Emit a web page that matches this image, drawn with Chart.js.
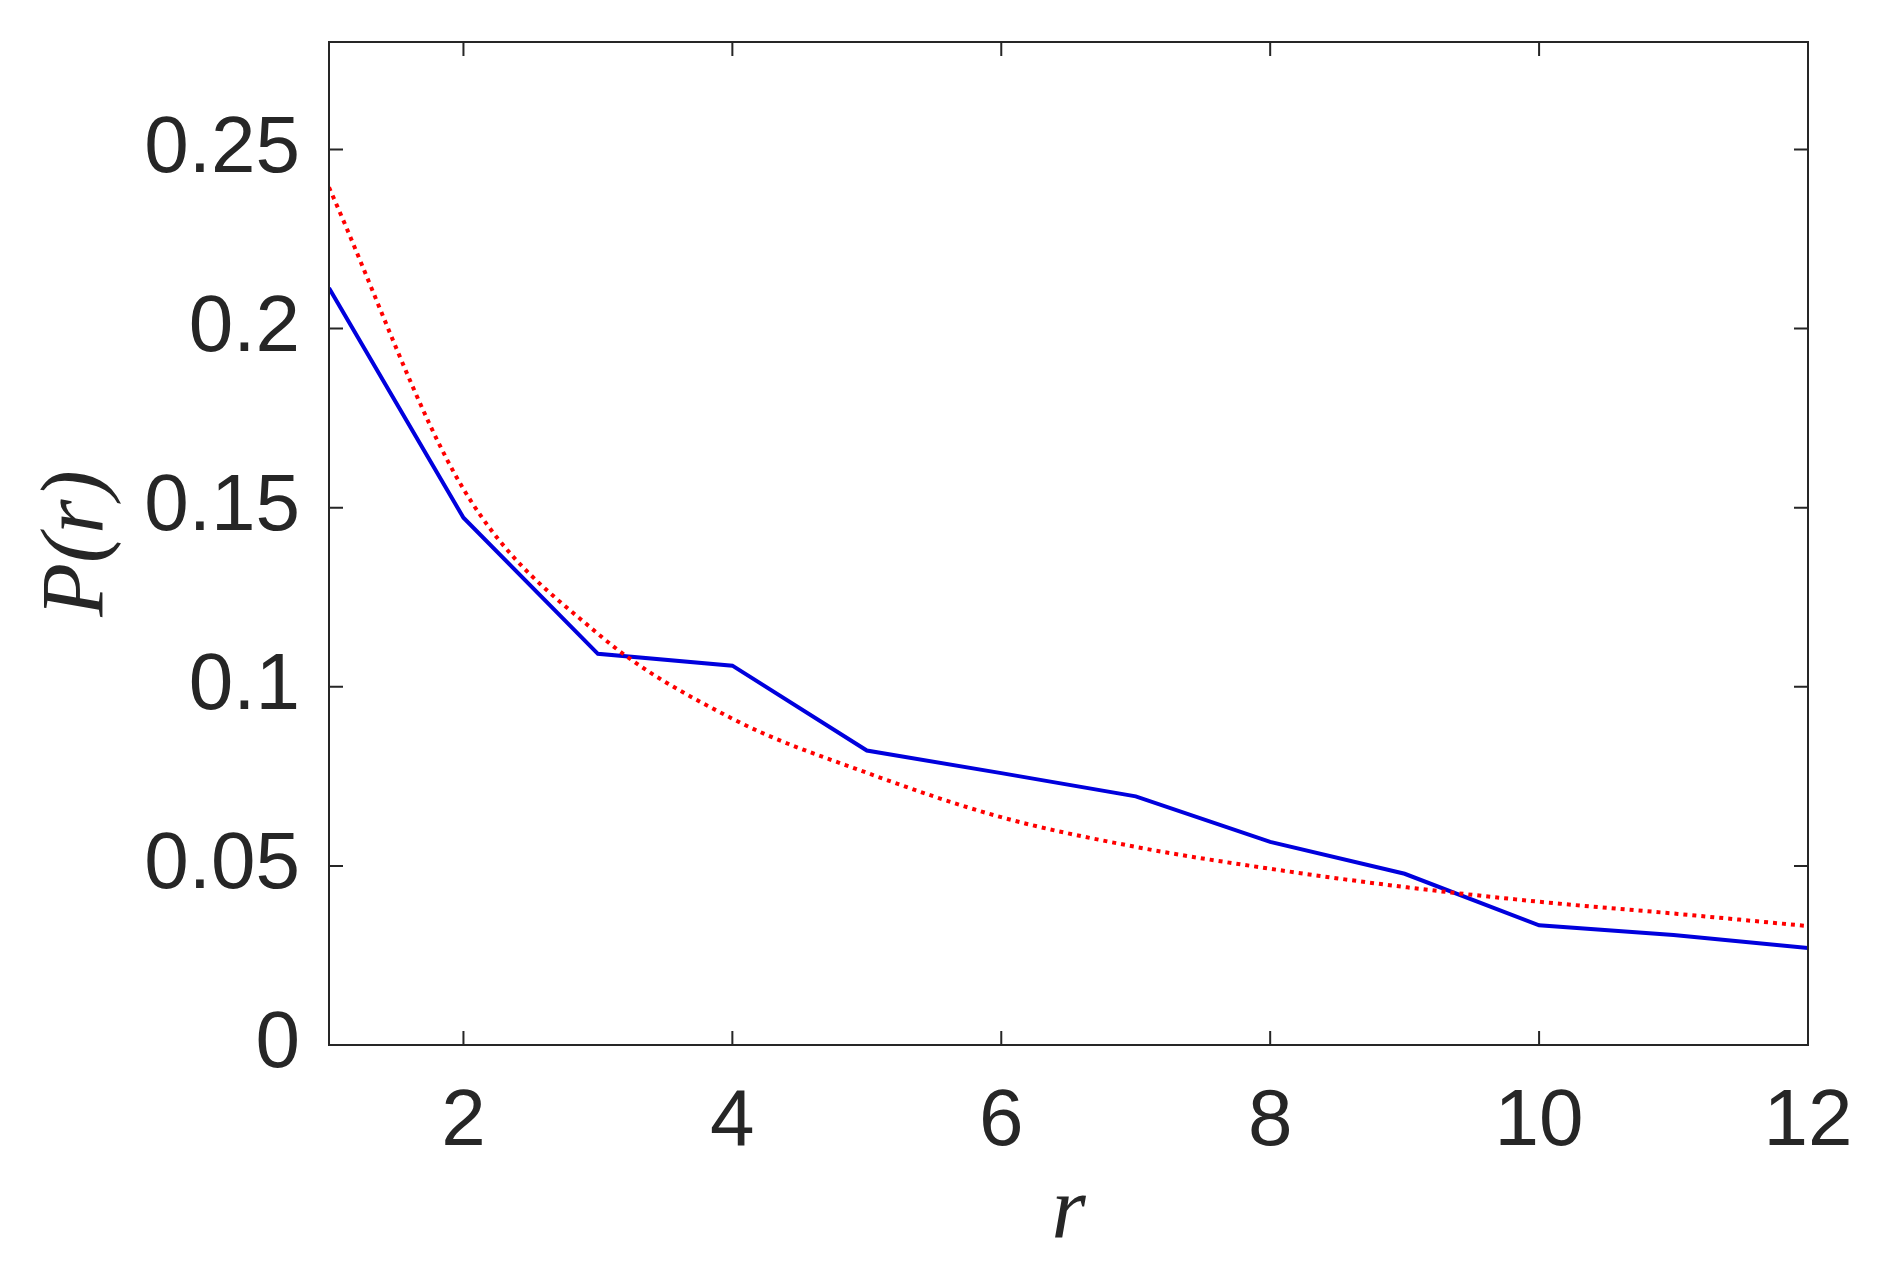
<!DOCTYPE html>
<html>
<head>
<meta charset="utf-8">
<script src="https://cdn.jsdelivr.net/npm/chart.js@4"></script>
<style>
  html, body { margin: 0; padding: 0; background: #fff; }
  #wrap { width: 1878px; height: 1281px; }
</style>
</head>
<body>
<div id="wrap"><canvas id="chart"></canvas></div>
<script>
const rValues = [1, 2, 3, 4, 5, 6, 7, 8, 9, 10, 11, 12];
const observed = [0.2113, 0.1472, 0.1092, 0.1059, 0.0822, 0.0759, 0.0694, 0.0567, 0.0478, 0.0334, 0.0307, 0.0271];
const fitted = [0.2394, 0.1552, 0.1148, 0.0911, 0.0760, 0.0636, 0.0553, 0.0492, 0.0441, 0.0400, 0.0367, 0.0332];
const xTickValues = [2, 4, 6, 8, 10, 12];
const yTickValues = [0, 0.05, 0.1, 0.15, 0.2, 0.25];
const yTickLabels = ['0', '0.05', '0.1', '0.15', '0.2', '0.25'];

const axisColor = '#262626';
const tickFont = { family: '"Liberation Sans", Arial, Helvetica, sans-serif', size: 80 };
const titleFont = { family: '"Liberation Serif", "DejaVu Serif", serif', size: 88, style: 'italic' };

// MATLAB-style box with inward ticks on every side
const frame = {
  id: 'frame',
  afterDatasetsDraw(chart) {
    const { ctx, chartArea: { left, right, top, bottom }, scales: { x, y } } = chart;
    const len = 14;
    ctx.save();
    ctx.strokeStyle = axisColor;
    ctx.lineWidth = 2;
    ctx.strokeRect(left, top, right - left, bottom - top);
    ctx.beginPath();
    xTickValues.forEach(v => {
      const px = x.getPixelForValue(v);
      ctx.moveTo(px, bottom); ctx.lineTo(px, bottom - len);
      ctx.moveTo(px, top); ctx.lineTo(px, top + len);
    });
    yTickValues.forEach(v => {
      const py = y.getPixelForValue(v);
      ctx.moveTo(left, py); ctx.lineTo(left + len, py);
      ctx.moveTo(right, py); ctx.lineTo(right - len, py);
    });
    ctx.stroke();
    ctx.restore();
  }
};

// keep the plot box where the layout padding puts it
function noEdgePadding(s) {
  s.paddingTop = 0;
  s.paddingBottom = 0;
  s.paddingLeft = 0;
  s.paddingRight = 0;
}

new Chart(document.getElementById('chart'), {
  type: 'line',
  data: {
    labels: rValues,
    datasets: [
      {
        label: 'fit',
        data: rValues.map((r, i) => ({ x: r, y: fitted[i] })),
        borderColor: '#ff0000',
        borderWidth: 4,
        borderDash: [4, 5],
        cubicInterpolationMode: 'monotone',
        pointRadius: 0,
        fill: false
      },
      {
        label: 'observed',
        data: rValues.map((r, i) => ({ x: r, y: observed[i] })),
        borderColor: '#0000dd',
        borderWidth: 4,
        tension: 0,
        pointRadius: 0,
        fill: false
      }
    ]
  },
  options: {
    responsive: true,
    maintainAspectRatio: false,
    devicePixelRatio: 1,
    animation: false,
    layout: { padding: { top: 42, right: 70, left: 0, bottom: 0 } },
    plugins: {
      legend: { display: false },
      tooltip: { enabled: false }
    },
    scales: {
      x: {
        type: 'linear',
        min: 1,
        max: 12,
        afterBuildTicks: s => { s.ticks = xTickValues.map(v => ({ value: v })); },
        afterFit: s => { s.height = 236; noEdgePadding(s); },
        grid: { display: false, drawTicks: false },
        border: { display: false },
        ticks: { color: axisColor, font: tickFont, padding: 30, maxRotation: 0 },
        title: { display: true, text: 'r', color: axisColor, font: titleFont, padding: { top: 0, bottom: 14 } }
      },
      y: {
        type: 'linear',
        min: 0,
        max: 0.28,
        afterBuildTicks: s => { s.ticks = yTickValues.map(v => ({ value: v })); },
        afterFit: s => { s.width = 329; noEdgePadding(s); },
        grid: { display: false, drawTicks: false },
        border: { display: false },
        ticks: {
          color: axisColor,
          font: tickFont,
          padding: 29,
          callback: v => yTickLabels[yTickValues.indexOf(v)] ?? ''
        },
        title: { display: true, text: 'P(r)', color: axisColor, font: titleFont, padding: { top: 26, bottom: 0 } }
      }
    }
  },
  plugins: [frame]
});
</script>
</body>
</html>
